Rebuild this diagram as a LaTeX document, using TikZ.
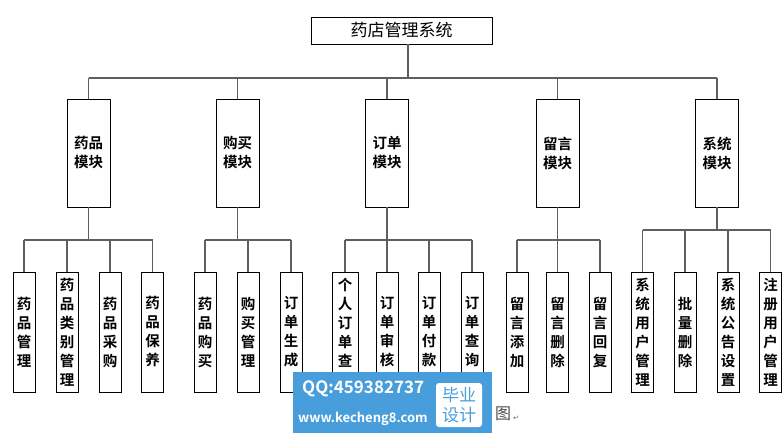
\documentclass[tikz,border=0pt]{standalone}
\usepackage{fontspec}
\newfontfamily\cjk{Noto Sans CJK SC}[BoldFont={Noto Sans CJK SC Bold}]
\newfontfamily\dejavu{DejaVu Sans}
\usetikzlibrary{positioning}
\definecolor{cLink}{RGB}{95,95,95}
\definecolor{cMark}{RGB}{72,158,219}

\begin{document}
\begin{tikzpicture}[x=1pt,y=-1pt,
   top/.style={draw,line width=0.8pt,minimum width=181pt,minimum height=27pt,inner sep=0pt,font=\cjk\fontsize{17}{19}\selectfont},
   mod/.style={draw,line width=0.9pt,minimum width=43pt,minimum height=108pt,inner sep=0pt,align=center,font=\cjk\bfseries\fontsize{14.5}{19}\selectfont},
   leaf/.style={draw,line width=0.9pt,minimum width=22pt,minimum height=120pt,inner sep=0pt,align=center,font=\cjk\bfseries\fontsize{14.5}{19}\selectfont},
   link/.style={draw=cLink,line width=1.3pt}]
  \useasboundingbox (0,0) rectangle (784,438);
  % root and modules
  \node[top] (T) at (401.5,30.5) {药店管理系统};
  \foreach \n/\x/\t in {m1/88.5/{药品\\模块},m2/237.5/{购买\\模块},m3/387/{订单\\模块},
                        m4/557.5/{留言\\模块},m5/717/{系统\\模块}}
    \node[mod] (\n) at (\x,153) {\t};
  % leaves
  \foreach \n/\x/\t in {l11/24/{药\\品\\管\\理},l12/67/{药\\品\\类\\别\\管\\理},
                        l13/110/{药\\品\\采\\购},l14/152.5/{药\\品\\保\\养},
                        l21/205/{药\\品\\购\\买},l22/248/{购\\买\\管\\理},l23/291/{订\\单\\生\\成},
                        l32/387/{订\\单\\审\\核},l33/429/{订\\单\\付\\款},l34/472/{订\\单\\查\\询},
                        l41/517/{留\\言\\添\\加},l42/557.5/{留\\言\\删\\除},l43/600/{留\\言\\回\\复},
                        l51/642.5/{系\\统\\用\\户\\管\\理},l52/685/{批\\量\\删\\除},
                        l53/728/{系\\统\\公\\告\\设\\置},l54/770.5/{注\\册\\用\\户\\管\\理}}
    \node[leaf] (\n) at (\x,332) {\t};
  \node[leaf,minimum width=26pt] (l31) at (345,332) {个\\人\\订\\单\\查\\询};
  % connectors
  \coordinate (hub) at (408,78);
  \draw[link] (T.south -| hub) -- (hub);
  \draw[link] (m1.north |- hub) -- (m5.north |- hub);
  \foreach \m in {m1,m2,m3,m4,m5}
    \draw[link] (\m.north) -- (\m.north |- hub);
  \foreach \m/\a/\b/\y in {m1/l11/l14/240,m2/l21/l23/240,m3/l31/l34/240,m4/l41/l43/240,m5/l51/l54/230}{
    \coordinate (bar) at (0,\y);
    \draw[link] (\m.south) -- (\m.south |- bar);
    \draw[link] (\a.north |- bar) -- (\b.north |- bar);
  }
  \foreach \l/\y in {l11/240,l12/240,l13/240,l14/240,l21/240,l22/240,l23/240,
                     l31/240,l32/240,l33/240,l34/240,l41/240,l42/240,l43/240,
                     l51/230,l52/230,l53/230,l54/230}{
    \coordinate (bar) at (0,\y);
    \draw[link] (\l.north) -- (\l.north |- bar);
  }
  % watermark and caption
  \node[fill=cMark,minimum width=199pt,minimum height=61pt,inner sep=0pt] (mark) at (392.5,402.5) {};
  \node[text=white,font=\cjk\bfseries\fontsize{17}{19}\selectfont,anchor=west,inner sep=0pt] (qq) at (302,389) {QQ:459382737};
  \node[text=white,font=\cjk\bfseries\fontsize{13}{15}\selectfont,anchor=west,inner sep=0pt] (web) at (298,419) {www.kecheng8.com};
  \node[fill=white,rounded corners=3pt,minimum width=46pt,minimum height=44pt,inner sep=0pt,
        text=cMark,align=center,font=\cjk\fontsize{17}{20}\selectfont] (tag) at (459,405) {毕业\\设计};
  \node[text=black!70,font=\cjk\fontsize{16}{18}\selectfont,inner sep=0pt] (fig) at (503,414) {图};
  \node[text=black!60,font=\dejavu\fontsize{7}{8}\selectfont,inner sep=0pt] (ret) at (516,418) {↵};
\end{tikzpicture}
\end{document}
